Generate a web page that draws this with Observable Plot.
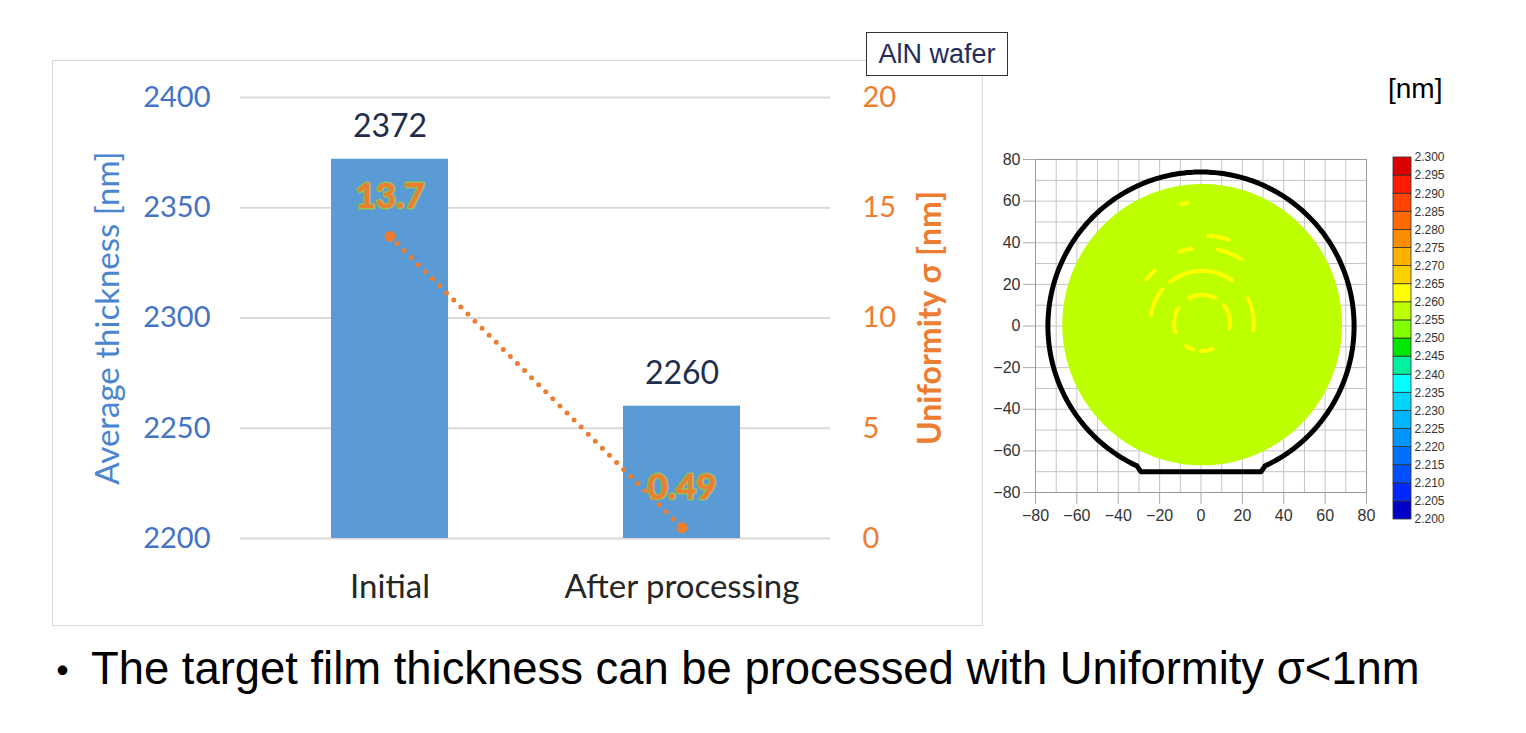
<!DOCTYPE html>
<html>
<head>
<meta charset="utf-8">
<script src="https://cdn.jsdelivr.net/npm/d3@7"></script>
<script src="https://cdn.jsdelivr.net/npm/@observablehq/plot@0.6"></script>
<style>
  html, body { margin: 0; padding: 0; background: #fff; }
  #page { position: relative; width: 1526px; height: 733px; overflow: hidden; background: #fff; }
  .abs { position: absolute; }
  #barPanel { left: 52px; top: 60px; width: 929px; height: 564px; border: 1px solid #d9d9d9; }
  #badge { left: 866px; top: 32px; width: 140px; height: 42px; border: 1px solid #333; background: #fff;
           font: 27px "Liberation Sans", Arial, sans-serif; color: #1f2d5a; text-align: center; line-height: 42px; }
  #unit { left: 1388px; top: 73px; font: 28px "Liberation Sans", Arial, sans-serif; color: #000; }
  #mapPanel { left: 985px; top: 140px; width: 400px; height: 400px; }
  #legendPanel { left: 1385px; top: 140px; width: 80px; height: 400px; }
  #bullet { left: 40px; top: 644px; font: 45px "Noto Sans CJK JP", sans-serif; line-height: 50px; color: #000; }
  #caption { left: 91px; top: 644px; font: 45.4px "Liberation Sans", Arial, sans-serif;
             line-height: 50px; white-space: nowrap; color: #000; }
  svg { overflow: visible; }
</style>
</head>
<body>
<div id="page">
  <div id="barPanel" class="abs"></div>
  <div id="badge" class="abs"></div>
  <div id="unit" class="abs"></div>
  <div id="mapPanel" class="abs"></div>
  <div id="legendPanel" class="abs"></div>
  <div id="bullet" class="abs"></div>
  <div id="caption" class="abs"></div>
</div>
<script>
// ---------------- data ----------------
const categories = ["Initial", "After processing"];
const avgThickness = [2372, 2260];           // nm, left axis (bars)
const uniformity = [13.7, 0.49];              // nm, right axis (dotted line)
const thicknessTicks = [2200, 2250, 2300, 2350, 2400];
const uniformityTicks = [0, 5, 10, 15, 20];
const leftAxisTitle = "Average thickness [nm]";
const rightAxisTitle = "Uniformity σ [nm]";
const badgeText = "AlN wafer";
const unitText = "[nm]";
const captionBullet = "・";
const captionText = "The target film thickness can be processed with Uniformity σ<1nm";

// wafer map
const mapTicks = [-80, -60, -40, -20, 0, 20, 40, 60, 80];
const mapGrid = [-80, -70, -60, -50, -40, -30, -20, -10, 0, 10, 20, 30, 40, 50, 60, 70, 80];
const legendTicks = [2.200, 2.205, 2.210, 2.215, 2.220, 2.225, 2.230, 2.235, 2.240, 2.245, 2.250,
                     2.255, 2.260, 2.265, 2.270, 2.275, 2.280, 2.285, 2.290, 2.295, 2.300];
const waferMeanValue = 2.258;                 // dominant map level (2.255–2.260 band)
const ringValue = 2.262;                      // slightly thicker rings (2.260–2.265 band)
// measured area (disc) and wafer outline geometry, in mm
const measuredArea = {cx: 0.8, cy: 0.4, r: 67.6};
const waferOutline = {r: 74, flatY: -70, flatHalf: 29, arcEndX: 31};
// thicker ring fragments: centre (0.5, 1.5), radius, start/end angle (deg)
const ringArcs = [
  {r: 13.5, a0: 62, a1: 118}, {r: 13.5, a0: 148, a1: 200}, {r: 13.5, a0: -12, a1: 38},
  {r: 13.5, a0: 236, a1: 252}, {r: 13.5, a0: 268, a1: 292},
  {r: 25, a0: 55, a1: 128}, {r: 25, a0: 140, a1: 172}, {r: 25, a0: -8, a1: 28},
  {r: 36, a0: 58, a1: 78}, {r: 42, a0: 72, a1: 86}, {r: 36, a0: 98, a1: 108},
  {r: 34, a0: 132, a1: 142}, {r: 58, a0: 97, a1: 100}
];
const ringCenter = {x: 0.5, y: 1.5};

// colour palette of the map legend (bottom → top)
const legendPalette = ["#0000c8", "#0028ff", "#0050ff", "#0070ff", "#0094ff", "#00b4ff", "#00d4ff",
  "#00ffff", "#00f0a0", "#00e600", "#80ff00", "#beff00", "#ffff00", "#ffd000", "#ffb000",
  "#ff8c00", "#ff6a00", "#ff4500", "#ff1a00", "#dd0000"];

// ---------------- bar chart ----------------
const yMin = thicknessTicks[0], yMax = thicknessTicks[thicknessTicks.length - 1];
const uMax = uniformityTicks[uniformityTicks.length - 1];
const u2y = u => yMin + u * (yMax - yMin) / uMax;
const y2u = y => String(Math.round((y - yMin) * uMax / (yMax - yMin)));
const rows = categories.map((c, i) => ({cat: c, thick: avgThickness[i], sigma: uniformity[i], sy: u2y(uniformity[i])}));

const blue = "#5B9BD5", orange = "#ED7D31";
const barChart = Plot.plot({
  width: 929, height: 564,
  marginLeft: 187, marginRight: 152, marginTop: 36, marginBottom: 87,
  style: {fontFamily: "Lato, 'Open Sans', sans-serif", background: "transparent", overflow: "visible"},
  x: {domain: categories, paddingInner: 0.6, paddingOuter: 0.307, axis: null},
  y: {domain: [yMin, yMax], axis: null},
  marks: [
    Plot.gridY({ticks: thicknessTicks, stroke: "#d9d9d9", strokeOpacity: 1, strokeWidth: 2}),
    Plot.axisY({ticks: thicknessTicks, tickFormat: d => String(d), tickSize: 0, tickPadding: 30, fontSize: 29,
                fill: "#4472C4", label: null}),
    Plot.axisY({anchor: "right", ticks: uniformityTicks.map(u2y), tickFormat: y2u, tickSize: 0, tickPadding: 32,
                fontSize: 29, fill: orange, label: null}),
    Plot.axisX({tickSize: 0, tickPadding: 36, fontSize: 33, fill: "#262626", label: null}),
    Plot.barY(rows, {x: "cat", y1: yMin, y2: "thick", fill: blue}),
    Plot.text(rows, {x: "cat", y: "thick", text: d => String(d.thick), dy: -32, fontSize: 32, fill: "#1F2D4E"}),
    Plot.line(rows, {x: "cat", y: "sy", stroke: orange, strokeWidth: 5, strokeDasharray: "0,10", strokeLinecap: "round"}),
    Plot.dot(rows, {x: "cat", y: "sy", r: 5.5, fill: orange}),
    Plot.text(rows, {x: "cat", y: "sy", text: d => String(d.sigma), dy: -40, fontSize: 35, fontWeight: "bold",
                     fill: orange, stroke: "#9BBB59", strokeWidth: 3, paintOrder: "stroke"}),
    Plot.text([leftAxisTitle], {frameAnchor: "left", textAnchor: "middle", rotate: -90, dx: -132, fontSize: 33, fill: "#4A86CF"}),
    Plot.text([rightAxisTitle], {frameAnchor: "right", textAnchor: "middle", rotate: -90, dx: 100, fontSize: 32,
                                 fontWeight: "bold", fill: orange})
  ]
});
document.getElementById("barPanel").appendChild(barChart);
document.getElementById("badge").textContent = badgeText;
document.getElementById("unit").textContent = unitText;

// ---------------- wafer map ----------------
const colorScale = {type: "threshold", domain: legendTicks.slice(1, -1), range: legendPalette};

// measured disc as an area between lower and upper semicircle
const discPts = [];
{
  const {cx, cy, r} = measuredArea;
  const n = 240;
  for (let i = 0; i <= n; ++i) {
    const t = Math.PI - Math.PI * i / n;
    const x = cx + r * Math.cos(t), h = r * Math.sin(t);
    discPts.push({x, y1: cy - h, y2: cy + h, v: waferMeanValue});
  }
}
// ring fragments
const ringPts = [];
ringArcs.forEach((a, k) => {
  const steps = Math.max(4, Math.ceil(Math.abs(a.a1 - a.a0)));
  for (let i = 0; i <= steps; ++i) {
    const t = (a.a0 + (a.a1 - a.a0) * i / steps) * Math.PI / 180;
    ringPts.push({id: k, x: ringCenter.x + a.r * Math.cos(t), y: ringCenter.y + a.r * Math.sin(t), v: ringValue});
  }
});
// wafer outline with orientation flat
const outlinePts = [];
{
  const {r, flatY, flatHalf, arcEndX} = waferOutline;
  const a = Math.acos(arcEndX / r);
  const n = 300;
  for (let i = 0; i <= n; ++i) {
    const t = -a + (Math.PI + 2 * a) * i / n;
    outlinePts.push({x: r * Math.cos(t), y: r * Math.sin(t)});
  }
  outlinePts.push({x: -flatHalf, y: flatY}, {x: flatHalf, y: flatY}, outlinePts[0]);
}

const mapChart = Plot.plot({
  width: 400, height: 400,
  marginLeft: 50, marginRight: 19, marginTop: 19, marginBottom: 48,
  style: {fontFamily: "'Liberation Sans', Arial, sans-serif", background: "transparent", overflow: "visible"},
  x: {domain: [-80, 80], axis: null},
  y: {domain: [-80, 80], axis: null},
  color: colorScale,
  marks: [
    Plot.gridX({ticks: mapGrid, stroke: "#c4c4c4", strokeOpacity: 1, strokeWidth: 1}),
    Plot.gridY({ticks: mapGrid, stroke: "#c4c4c4", strokeOpacity: 1, strokeWidth: 1}),
    Plot.frame({stroke: "#999"}),
    Plot.areaY(discPts, {x: "x", y1: "y1", y2: "y2", fill: "v"}),
    Plot.line(ringPts, {x: "x", y: "y", z: "id", stroke: "v", strokeWidth: 4, strokeLinecap: "round"}),
    Plot.line(outlinePts, {x: "x", y: "y", stroke: "#000", strokeWidth: 5, strokeLinejoin: "round"}),
    Plot.axisX({ticks: mapTicks, tickSize: 12, tickPadding: 5, fontSize: 16, stroke: "#aaa", fill: "#333", label: null}),
    Plot.axisY({ticks: mapTicks, tickSize: 12, tickPadding: 3, fontSize: 16, stroke: "#aaa", fill: "#333", label: null})
  ]
});
document.getElementById("mapPanel").appendChild(mapChart);

// ---------------- colour legend ----------------
const bins = legendTicks.slice(0, -1).map((lo, i) => ({lo, hi: legendTicks[i + 1]}));
const legendChart = Plot.plot({
  width: 80, height: 400,
  marginLeft: 8, marginRight: 54, marginTop: 17, marginBottom: 21,
  style: {fontFamily: "'Liberation Sans', Arial, sans-serif", background: "transparent", overflow: "visible"},
  y: {domain: [legendTicks[0], legendTicks[legendTicks.length - 1]], axis: null},
  color: colorScale,
  marks: [
    Plot.rect(bins, {y1: "lo", y2: "hi", fill: d => (d.lo + d.hi) / 2, stroke: "#333", strokeWidth: 0.8}),
    Plot.axisY({anchor: "right", ticks: legendTicks, tickFormat: d3.format(".3f"), tickSize: 0, tickPadding: 3,
                fontSize: 12, fill: "#333", label: null})
  ]
});
document.getElementById("legendPanel").appendChild(legendChart);

// ---------------- caption ----------------
document.getElementById("bullet").textContent = captionBullet;
document.getElementById("caption").textContent = captionText;
</script>
</body>
</html>
